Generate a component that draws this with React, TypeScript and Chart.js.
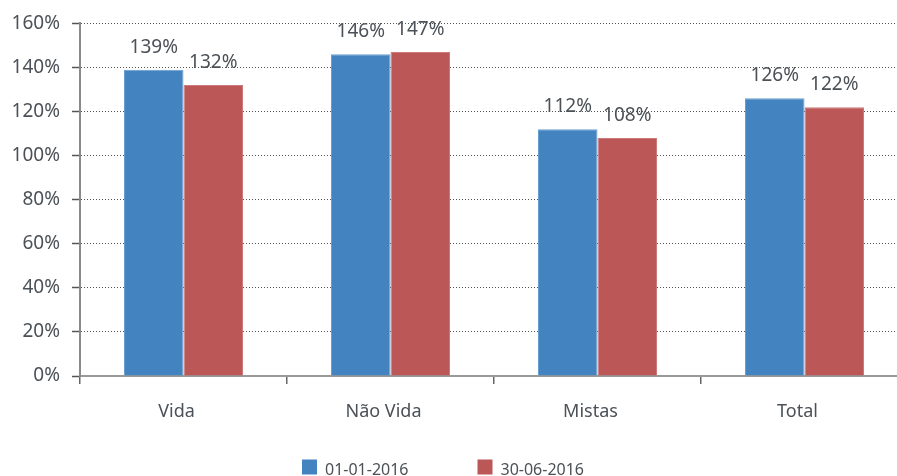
import React, { useEffect, useRef } from "react";
import { Chart, registerables } from "chart.js";

Chart.register(...registerables);

const categories = ["Vida", "Não Vida", "Mistas", "Total"];
const seriesLabels = ["01-01-2016", "30-06-2016"];
const series1 = [139, 146, 112, 126];
const series2 = [132, 147, 108, 122];
const yTicks = [0, 20, 40, 60, 80, 100, 120, 140, 160];

const FONT = "'Noto Sans', 'Open Sans', sans-serif";
const TEXT = "#4b5156";
const BLUE = "#4383c0";
const RED = "#bb5757";

const valueLabels = {
  id: "valueLabels",
  afterDatasetsDraw(chart: any) {
    const ctx = chart.ctx;
    ctx.save();
    ctx.font = `19px ${FONT}`;
    ctx.fillStyle = TEXT;
    ctx.textAlign = "center";
    ctx.textBaseline = "alphabetic";
    chart.data.datasets.forEach((ds: any, i: number) => {
      const meta = chart.getDatasetMeta(i);
      meta.data.forEach((bar: any, j: number) => {
        ctx.fillText(`${ds.data[j]}%`, bar.x, bar.y - 17);
      });
    });
    ctx.restore();
  },
};

const customLegend = {
  id: "customLegend",
  afterDraw(chart: any) {
    const ctx = chart.ctx;
    ctx.save();
    ctx.font = `16px ${FONT}`;
    const box = 15;
    const gapText = 8;
    const gap = 69;
    const items = chart.data.datasets.map((ds: any) => ({
      label: ds.label,
      color: ds.backgroundColor,
      w: box + gapText + ctx.measureText(ds.label).width,
    }));
    const total = items.reduce((s: number, it: any) => s + it.w, 0) + gap * (items.length - 1);
    let x = 443 - total / 2;
    const yc = 467;
    items.forEach((it: any) => {
      ctx.fillStyle = it.color;
      ctx.fillRect(x, yc - box / 2, box, box);
      ctx.fillStyle = TEXT;
      ctx.textAlign = "left";
      ctx.textBaseline = "middle";
      ctx.fillText(it.label, x + box + gapText, yc + 3);
      x += it.w + gap;
    });
    ctx.restore();
  },
};

export default function App() {
  const ref = useRef<HTMLCanvasElement>(null);
  useEffect(() => {
    const chart = new Chart(ref.current!, {
      type: "bar",
      data: {
        labels: categories,
        datasets: [
          {
            label: seriesLabels[0],
            data: series1,
            backgroundColor: BLUE,
            borderColor: "#6a9fd2",
            borderWidth: { top: 1, left: 1, right: 1, bottom: 0 },
            categoryPercentage: 0.575,
            barPercentage: 1,
          },
          {
            label: seriesLabels[1],
            data: series2,
            backgroundColor: RED,
            borderColor: "#cc7a7a",
            borderWidth: { top: 1, left: 1, right: 1, bottom: 0 },
            categoryPercentage: 0.575,
            barPercentage: 1,
          },
        ],
      },
      options: {
        responsive: false,
        animation: false,
        devicePixelRatio: 1,
        layout: { padding: { top: 23, right: 4, left: 0, bottom: 64 } },
        plugins: {
          legend: { display: false },
          tooltip: { enabled: false },
        },
        scales: {
          x: {
            afterFit: (s: any) => {
              s.height = 50;
            },
            grid: {
              offset: true,
              drawOnChartArea: false,
              drawTicks: true,
              tickLength: 8,
              color: "#666",
              lineWidth: 1.5,
            },
            border: { color: "#999", width: 2 },
            ticks: {
              font: { family: FONT, size: 18 },
              color: TEXT,
              padding: 17,
              labelOffset: -7,
            },
          },
          y: {
            min: 0,
            max: 160,
            afterFit: (s: any) => {
              s.width = 80;
            },
            afterBuildTicks: (s: any) => {
              s.ticks = yTicks.map((v) => ({ value: v }));
            },
            grid: {
              color: "#555",
              lineWidth: 1,
              tickLength: 8,
              tickColor: "#555",
              tickBorderDash: [],
              tickWidth: 1.5,
            },
            border: { color: "#8a8a8a", width: 2, dash: [1, 2] },
            ticks: {
              stepSize: 20,
              font: { family: FONT, size: 19 },
              color: TEXT,
              padding: 12,
              callback: (v: any) => `${v}%`,
            },
          },
        },
      },
      plugins: [valueLabels, customLegend],
    });
    return () => chart.destroy();
  }, []);
  return (
    <div
      style={{
        position: "fixed",
        left: 0,
        top: 0,
        width: 897,
        height: 476,
        overflow: "hidden",
        background: "#fff",
      }}
    >
      <canvas ref={ref} width={912} height={490} style={{ display: "block" }} />
    </div>
  );
}
